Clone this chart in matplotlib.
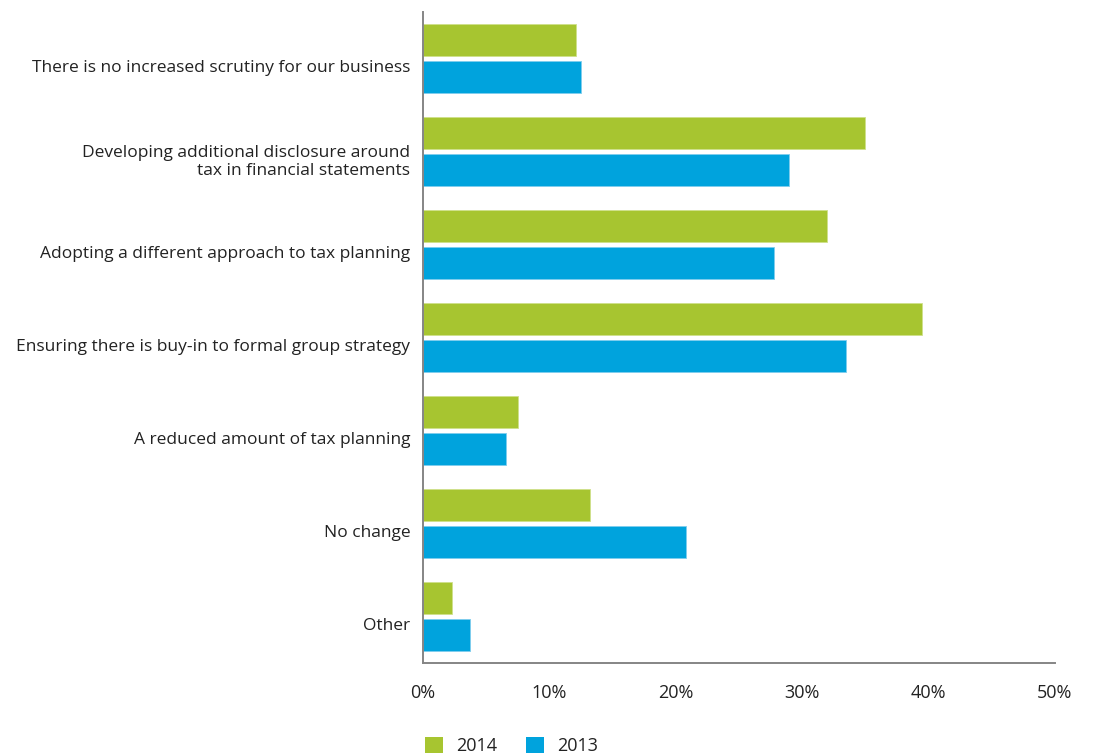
import numpy as np
import matplotlib.pyplot as plt
from matplotlib.patches import Patch

plt.rcParams["font.family"] = ["Open Sans", "DejaVu Sans"]

categories = [
    "There is no increased scrutiny for our business",
    "Developing additional disclosure around\ntax in financial statements",
    "Adopting a different approach to tax planning",
    "Ensuring there is buy-in to formal group strategy",
    "A reduced amount of tax planning",
    "No change",
    "Other",
]
values_2014 = [12.1, 35.0, 32.0, 39.5, 7.5, 13.2, 2.3]
values_2013 = [12.5, 29.0, 27.8, 33.5, 6.6, 20.8, 3.7]
x_ticks = [0, 10, 20, 30, 40, 50]
x_tick_labels = ["0%", "10%", "20%", "30%", "40%", "50%"]

green = "#a7c530"
blue = "#00a3dd"
text_col = "#222222"
axis_col = "#858585"

fig = plt.figure(figsize=(10.93, 7.55), dpi=100)
ax = fig.add_axes([0.387, 0.122, 0.578, 0.862])

y = np.arange(len(categories))
h = 0.34
ax.barh(y - 0.2, values_2014, height=h, color=green, edgecolor="#cfe08a", linewidth=0.6)
ax.barh(y + 0.2, values_2013, height=h, color=blue, edgecolor="#7fcdee", linewidth=0.6)

ax.set_ylim(6.5, -0.5)
ax.set_xlim(0, 50)
# labels sit a little below the middle of each pair
ax.set_yticks(y + 0.08)
ax.set_yticklabels(categories, fontsize=12.5, color=text_col, ha="right", multialignment="right")
ax.set_xticks(x_ticks)
ax.set_xticklabels(x_tick_labels, fontsize=13, color=text_col)
ax.tick_params(axis="both", length=0)
ax.tick_params(axis="y", pad=9)
ax.tick_params(axis="x", pad=15)

for side in ["top", "right"]:
    ax.spines[side].set_visible(False)
for side in ["left", "bottom"]:
    ax.spines[side].set_color(axis_col)
    ax.spines[side].set_linewidth(1.4)

handles = [Patch(facecolor=green, label="2014"), Patch(facecolor=blue, label="2013")]
fig.legend(handles=handles, loc="center", bbox_to_anchor=(0.468, 0.012), ncol=2,
           frameon=False, fontsize=13, handlelength=1.0, handleheight=1.0,
           handletextpad=0.7, columnspacing=1.6, labelcolor=text_col)

fig.savefig("out.png", dpi=100)
